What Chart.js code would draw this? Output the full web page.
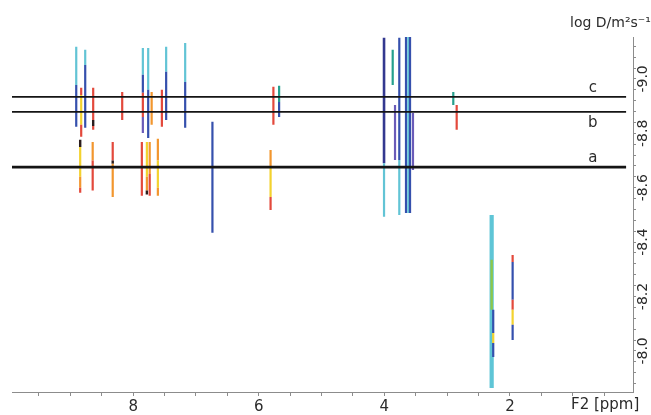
<!DOCTYPE html>
<html>
<head>
<meta charset="utf-8">
<script src="https://cdn.jsdelivr.net/npm/chart.js@4.4.1/dist/chart.umd.min.js"></script>
<style>
  html, body { margin: 0; padding: 0; background: #fff; }
  #wrap { width: 651px; height: 415px; }
</style>
</head>
<body>
<div id="wrap"><canvas id="dosy" width="651" height="415"></canvas></div>
<script>
// axis ranges (F2 ppm, log D)
const ppmMin = 0.04, ppmMax = 9.93;
const logDMin = -9.154, logDMax = -7.849;

const xTickLabels = [8, 6, 4, 2];
const xMinorStep = 0.5;
const yTickLabels = [-9.0, -8.8, -8.6, -8.4, -8.2, -8.0];
const yMinorStep = 0.04;

// diffusion bands a, b, c
const bandNames = ['c', 'b', 'a'];
const bandLogD = [-8.934, -8.879, -8.676];
const bandLabelLogD = [-8.967, -8.838, -8.710];
const bandFromPpm = 9.93, bandToPpm = 0.15, bandLabelPpm = 0.68;

// contour traces: one entry per coloured piece of a trace
const segPpm = [
    8.907, 8.907,
    8.828, 8.828, 8.828,
    8.764, 8.764,
    8.637, 8.637, 8.637,
    8.175,
    7.846, 7.846, 7.846, 7.846,
    7.761, 7.761,
    7.706,
    7.543,
    7.475, 7.475,
    7.172, 7.172,
    8.844, 8.844, 8.844, 8.844,
    8.645, 8.645,
    8.326, 8.326, 8.326,
    7.862,
    7.782, 7.782, 7.782,
    7.737, 7.737,
    7.607, 7.607, 7.607,
    6.738,
    5.767,
    5.676, 5.676,
    5.812, 5.812, 5.812,
    4.005, 4.005,
    3.867,
    3.830,
    3.762, 3.762,
    3.655, 3.618, 3.591,
    3.544,
    2.902,
    2.848,
    2.291, 2.291,
    2.266, 2.266, 2.266,
    1.957, 1.957, 1.957, 1.957, 1.957
];
const segFrom = [
    -9.118, -8.978,
    -8.967, -8.941, -8.831,
    -9.107, -9.051,
    -8.967, -8.849, -8.827,
    -8.952,
    -9.114, -9.015, -8.949, -8.860,
    -9.114, -8.960,
    -8.952,
    -8.960,
    -9.118, -9.026,
    -9.132, -8.989,
    -8.776, -8.750, -8.640, -8.600,
    -8.768, -8.700,
    -8.768, -8.700, -8.688,
    -8.768,
    -8.768, -8.640, -8.590,
    -8.768, -8.650,
    -8.780, -8.700, -8.600,
    -8.842,
    -8.971,
    -8.975, -8.915,
    -8.739, -8.676, -8.566,
    -9.151, -8.690,
    -9.107,
    -8.904,
    -9.151, -8.702,
    -9.154, -9.154, -9.154,
    -8.875,
    -8.952,
    -8.904,
    -8.500, -8.335,
    -8.151, -8.066, -8.029,
    -8.353, -8.327, -8.188, -8.151, -8.096
];
const segTo = [
    -8.978, -8.824,
    -8.941, -8.831, -8.787,
    -9.051, -8.820,
    -8.849, -8.827, -8.813,
    -8.849,
    -9.015, -8.949, -8.860, -8.801,
    -8.960, -8.783,
    -8.831,
    -8.824,
    -9.026, -8.849,
    -8.989, -8.820,
    -8.750, -8.640, -8.600, -8.581,
    -8.700, -8.590,
    -8.700, -8.688, -8.566,
    -8.570,
    -8.640, -8.590, -8.575,
    -8.650, -8.570,
    -8.700, -8.600, -8.570,
    -8.434,
    -8.831,
    -8.915, -8.860,
    -8.676, -8.566, -8.518,
    -8.690, -8.493,
    -8.978,
    -8.702,
    -8.702, -8.500,
    -8.507, -8.507, -8.507,
    -8.665,
    -8.904,
    -8.813,
    -7.864, -8.151,
    -8.066, -8.029, -7.978,
    -8.327, -8.188, -8.151, -8.096, -8.040
];
const segLevel = [
    'cyan', 'blue',
    'red', 'yellow', 'red',
    'cyan', 'blue',
    'red', 'black', 'red',
    'red',
    'cyan', 'blue', 'red', 'violet',
    'cyan', 'blue',
    'orange',
    'red',
    'cyan', 'blue',
    'cyan', 'blue',
    'black', 'yellow', 'orange', 'red',
    'orange', 'red',
    'red', 'black', 'orange',
    'red',
    'yellow', 'orange', 'black',
    'orange', 'red',
    'orange', 'yellow', 'orange',
    'blue',
    'red',
    'teal', 'blue',
    'orange', 'yellow', 'red',
    'navy', 'cyan',
    'teal',
    'violet',
    'blue', 'cyan',
    'blue', 'cyan', 'blue',
    'violet',
    'teal',
    'red',
    'cyanWide', 'green',
    'blue', 'yellow', 'blue',
    'red', 'blue', 'red', 'yellow', 'blue'
];

const levelStyle = {
    cyan:     { color: '#62c4d5', width: 2.2 },
    cyanWide: { color: '#5fc5d6', width: 4.2 },
    blue:     { color: '#3550ad', width: 2.2 },
    navy:     { color: '#33388f', width: 2.6 },
    violet:   { color: '#6a5bb8', width: 2.2 },
    red:      { color: '#e3493c', width: 2.2 },
    orange:   { color: '#f2962e', width: 2.2 },
    yellow:   { color: '#f3d22f', width: 2.2 },
    teal:     { color: '#25a08d', width: 2.2 },
    green:    { color: '#8dc84b', width: 2.4 },
    black:    { color: '#2b1d1d', width: 2.4 }
};

const FONT = '"DejaVu Sans", Verdana, sans-serif';

const xTicks = [];
for (let v = xMinorStep; v < ppmMax; v += xMinorStep) xTicks.push(v);
const yTicks = [];
for (let k = -4; k <= 29; k++) {
    const v = Math.round((-9 + k * yMinorStep) * 100) / 100;
    if (v >= logDMin && v <= logDMax) yTicks.push(v);
}

const bandSets = bandLogD.map((v, i) => ({
    data: [{ x: bandFromPpm, y: v }, { x: bandToPpm, y: v }],
    borderColor: '#141414',
    borderWidth: bandNames[i] === 'a' ? 2.8 : 1.7,
    pointRadius: 0,
    showLine: true
}));

const traceSets = segPpm.map((p, i) => {
    const st = levelStyle[segLevel[i]];
    return {
        data: [{ x: p, y: segFrom[i] }, { x: p, y: segTo[i] }],
        borderColor: st.color,
        borderWidth: st.width,
        borderCapStyle: 'butt',
        pointRadius: 0,
        showLine: true
    };
}).reverse();

const textPlugin = {
    id: 'dosyText',
    afterDraw(chart) {
        const ctx = chart.ctx;
        const xs = chart.scales.x, ys = chart.scales.y;
        ctx.save();
        ctx.fillStyle = '#2b2b2b';

        // rotated log D tick labels
        ctx.font = '14px ' + FONT;
        ctx.textAlign = 'center';
        ctx.textBaseline = 'middle';
        yTickLabels.forEach(v => {
            ctx.save();
            ctx.translate(ys.left + 10.5, ys.getPixelForValue(v));
            ctx.rotate(-Math.PI / 2);
            ctx.fillText(v.toFixed(1), 0, 0);
            ctx.restore();
        });

        // band letters
        ctx.font = '15px ' + FONT;
        bandNames.forEach((n, i) => {
            ctx.fillText(n, xs.getPixelForValue(bandLabelPpm), ys.getPixelForValue(bandLabelLogD[i]));
        });

        // axis titles
        ctx.font = '14px ' + FONT;
        ctx.textAlign = 'left';
        ctx.fillText('log D/m²s⁻¹', 570, 23);
        ctx.font = '15px ' + FONT;
        ctx.textBaseline = 'top';
        ctx.fillText('F2 [ppm]', 571, 398);
        ctx.restore();
    }
};

new Chart(document.getElementById('dosy'), {
    type: 'scatter',
    data: { datasets: [...bandSets, ...traceSets] },
    options: {
        responsive: false,
        devicePixelRatio: 1,
        animation: false,
        layout: { padding: { left: 12, top: 37, right: 0, bottom: 0 } },
        plugins: {
            legend: { display: false },
            tooltip: { enabled: false }
        },
        scales: {
            x: {
                type: 'linear',
                position: 'bottom',
                reverse: true,
                min: ppmMin,
                max: ppmMax,
                afterBuildTicks: (s) => { s.ticks = xTicks.map(v => ({ value: v })); },
                afterFit: (s) => { s.height = 23; },
                ticks: {
                    autoSkip: false,
                    maxRotation: 0,
                    padding: 2,
                    color: '#2b2b2b',
                    font: { family: FONT, size: 15 },
                    callback: (v) => xTickLabels.includes(v) ? String(v) : ''
                },
                grid: { drawOnChartArea: false, drawTicks: true, tickLength: 4, color: '#8c8c8c' },
                border: { display: true, color: '#8c8c8c', width: 1 }
            },
            y: {
                type: 'linear',
                position: 'right',
                reverse: true,
                min: logDMin,
                max: logDMax,
                afterBuildTicks: (s) => { s.ticks = yTicks.map(v => ({ value: v })); },
                afterFit: (s) => { s.width = 18; },
                ticks: { display: false },
                grid: { drawOnChartArea: false, drawTicks: true, tickLength: 3, color: '#8c8c8c' },
                border: { display: true, color: '#8c8c8c', width: 1 }
            }
        }
    },
    plugins: [textPlugin]
});
</script>
</body>
</html>
